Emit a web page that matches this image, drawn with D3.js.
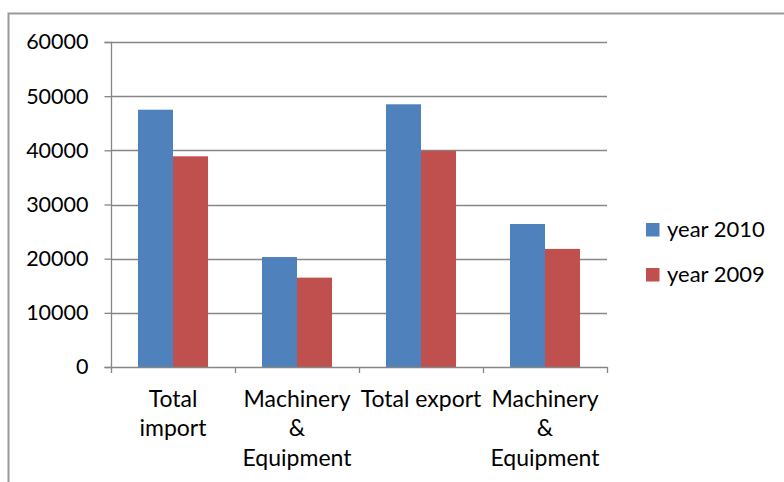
<!DOCTYPE html>
<html>
<head>
<meta charset="utf-8">
<script src="https://cdn.jsdelivr.net/npm/d3@7"></script>
<style>
  html, body { margin: 0; padding: 0; background: #ffffff; }
  svg { display: block; }
  text { font-family: Lato, "Open Sans", sans-serif; fill: #000; }
</style>
</head>
<body>
<svg id="chart" width="784" height="482"></svg>
<script>
// Trade figures by category, two years side by side
const categories = ["Total import", "Machinery & Equipment", "Total export", "Machinery & Equipment"];
const categoryLines = [["Total", "import"], ["Machinery", "&", "Equipment"], ["Total export"], ["Machinery", "&", "Equipment"]];
const seriesNames = ["year 2010", "year 2009"];
const year2010 = [47500, 20300, 48500, 26400];
const year2009 = [38900, 16500, 39900, 21800];
const yTicks = [0, 10000, 20000, 30000, 40000, 50000, 60000];
const colors = ["#4F81BD", "#C0504D"];

const svg = d3.select("#chart");
const tickFont = 21.5;
const labelFont = 23;
const legendFont = 22;
const gridColor = "#868686";

// outer chart frame (runs off the right and bottom edges)
svg.append("path")
  .attr("d", "M8.5,490 L8.5,13.5 L800,13.5")
  .attr("fill", "none")
  .attr("stroke", "#9a9a9a")
  .attr("stroke-width", 2);

// tail of a heading line above the frame
svg.append("text").attr("x", 2).attr("y", -3).style("font-size", "22px").text("(");
svg.append("text").attr("x", 158).attr("y", -3).style("font-size", "22px").text(")");

const plot = { left: 111, right: 607, top: 42, bottom: 367 };

const y = d3.scaleLinear().domain([0, 60000]).range([plot.bottom, plot.top]);
const x0 = d3.scaleBand().domain(d3.range(categories.length)).range([plot.left, plot.right]).padding(0);
const x1 = d3.scaleBand().domain(seriesNames).range([0, x0.bandwidth()]).paddingInner(0).paddingOuter(0.77);

// horizontal gridlines
svg.append("g").selectAll("line").data(yTicks.filter(t => t > 0)).join("line")
  .attr("x1", plot.left).attr("x2", plot.right)
  .attr("y1", d => Math.round(y(d)) + 0.5).attr("y2", d => Math.round(y(d)) + 0.5)
  .attr("stroke", gridColor).attr("stroke-width", 1.3);

// bars
const values = [year2010, year2009];
const bars = [];
categories.forEach((c, i) => {
  seriesNames.forEach((s, j) => bars.push({ i, s, j, v: values[j][i] }));
});
svg.append("g").selectAll("rect").data(bars).join("rect")
  .attr("x", d => x0(d.i) + x1(d.s))
  .attr("width", x1.bandwidth())
  .attr("y", d => y(d.v))
  .attr("height", d => y(0) - y(d.v))
  .attr("fill", d => colors[d.j]);

// y axis
const yAxis = d3.axisLeft(y).tickValues(yTicks).tickSize(7).tickPadding(16).tickFormat(d3.format("d"));
const gy = svg.append("g").attr("transform", `translate(${plot.left + 0.5},0)`).call(yAxis);
gy.select(".domain").attr("stroke", gridColor).attr("stroke-width", 1.3).attr("d", `M-7,${plot.top}.5H0V${plot.bottom}.5H-7`);
gy.selectAll(".tick line").attr("stroke", gridColor).attr("stroke-width", 1.3);
gy.selectAll(".tick text").style("font-size", tickFont + "px").style("font-family", "Lato, sans-serif").attr("fill", "#000");

// x axis line and category separators
svg.append("line")
  .attr("x1", plot.left).attr("x2", plot.right)
  .attr("y1", plot.bottom + 0.5).attr("y2", plot.bottom + 0.5)
  .attr("stroke", gridColor).attr("stroke-width", 1.3);
const sep = d3.range(categories.length + 1).map(k => plot.left + k * x0.step());
svg.append("g").selectAll("line").data(sep).join("line")
  .attr("x1", d => Math.round(d) + 0.5).attr("x2", d => Math.round(d) + 0.5)
  .attr("y1", plot.bottom).attr("y2", plot.bottom + 6)
  .attr("stroke", gridColor).attr("stroke-width", 1.3);

// category labels, wrapped
const lineH = 29.3;
const labels = svg.append("g").selectAll("text").data(categoryLines).join("text")
  .attr("text-anchor", "middle")
  .style("font-size", labelFont + "px")
  .attr("x", (d, i) => x0(i) + x0.bandwidth() / 2)
  .attr("y", 407);
labels.selectAll("tspan").data(d => d).join("tspan")
  .attr("x", function () { return d3.select(this.parentNode).attr("x"); })
  .attr("dy", (d, k) => k === 0 ? 0 : lineH)
  .text(d => d);

// legend
const legend = svg.append("g").selectAll("g").data(seriesNames).join("g")
  .attr("transform", (d, j) => `translate(646,${223 + j * 45})`);
legend.append("rect").attr("width", 13.5).attr("height", 13.5).attr("fill", (d, j) => colors[j]);
legend.append("text").attr("x", 21).attr("y", 13.5).style("font-size", legendFont + "px").text(d => d);
</script>
</body>
</html>
